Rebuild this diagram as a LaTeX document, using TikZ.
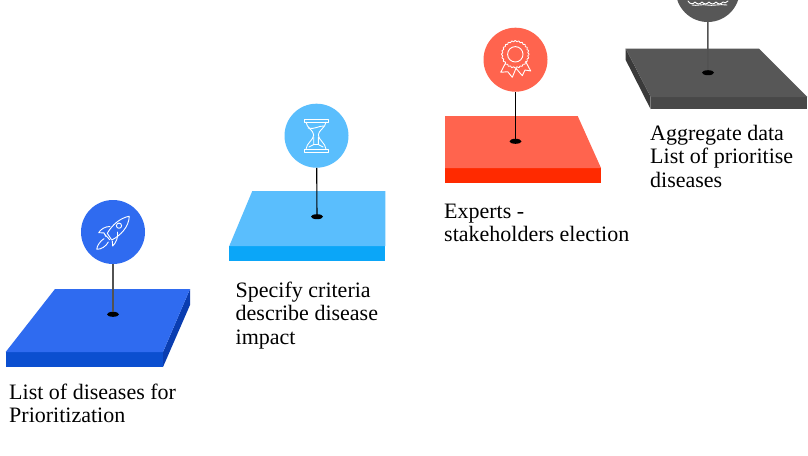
\documentclass[tikz,border=0pt]{standalone}
\usepackage{fontspec}
\setmainfont{Liberation Serif}
\usetikzlibrary{shapes.geometric}
\definecolor{blueT}{HTML}{2F6BF0}\definecolor{blueF}{HTML}{0B4FD0}\definecolor{blueS}{HTML}{0A3DB0}
\definecolor{skyT}{HTML}{5ABEFD}\definecolor{skyF}{HTML}{0BA6F8}
\definecolor{redT}{HTML}{FF644E}\definecolor{redF}{HTML}{FF2A00}
\definecolor{greyT}{HTML}{575757}\definecolor{greyF}{HTML}{484848}\definecolor{greyS}{HTML}{3A3A3A}
\tikzset{
  x=1pt,y=-1pt,
  pin/.style={circle,minimum size=64pt,inner sep=0pt,draw=none},
  hole/.style={ellipse,fill=black,minimum width=12pt,minimum height=5pt,inner sep=0pt},
  conn/.style={line width=1.1pt,draw=black},
  connsoft/.style={line width=1.5pt,draw=black!68},
  icon/.style={draw=white,line width=0.9pt,line join=round,line cap=round,fill=none},
  caption/.style={anchor=north west,inner sep=0pt,align=left,text=black,font=\fontsize{22}{23.5}\selectfont},
}
\newcommand{\firstline}{\rule{0pt}{15pt}}
\begin{document}
\begin{tikzpicture}
\useasboundingbox (0,0) rectangle (808,455);
\clip (0,0) rectangle (808,455);
\fill[white] (0,0) rectangle (808,455);
% plate 1
\fill[blueF] (5.7,352) rectangle (163,367);
\fill[blueS] (190,289) -- (190,305) -- (163,367) -- (163,352) -- cycle;
\fill[blueT] (55,289) -- (190,289) -- (163,352) -- (5.7,352) -- cycle;
% plate 2
\fill[skyF] (229.3,246) rectangle (385.3,260.7);
\fill[skyT] (252.3,191) -- (385.3,191) -- (385.3,246) -- (229.3,246) -- cycle;
% plate 3
\fill[redF] (445,168) rectangle (601,182.7);
\fill[redT] (445,116) -- (577.7,116) -- (601,168) -- (445,168) -- cycle;
% plate 4
\fill[greyF] (650.7,97) rectangle (807.3,109.3);
\fill[greyS] (625.7,48.7) -- (625.7,60) -- (650.7,109.3) -- (650.7,97) -- cycle;
\fill[greyT] (625.7,48.7) -- (759,48.7) -- (807.3,97) -- (650.7,97) -- cycle;
% pins
\node[pin,fill=blueT] (c1) at (113,232) {};
\node[pin,fill=skyT] (c2) at (316.5,135.7) {};
\node[pin,fill=redT] (c3) at (515.5,59.7) {};
\node[pin,fill=greyT] (c4) at (707.7,-10) {};
\node[hole] (h1) at (113,314.3) {};
\node[hole] (h2) at (317,216.7) {};
\node[hole] (h3) at (515.5,141.3) {};
\node[hole] (h4) at (708,72.7) {};
\draw[connsoft] (c1) -- (h1);
\draw[conn] (c2) -- (h2);
\draw[conn] (c3) -- (h3);
\draw[connsoft] (c4) -- (h4);
% rocket
\draw[icon] (129.3,216.2) .. controls (120,218) and (112,225) .. (107.3,233.3) -- (111.7,240) .. controls (120,236) and (129,227) .. cycle;
\draw[icon] (119,225.7) circle (2.6);
\draw[icon] (110,226.5) .. controls (105,226.5) and (101,229) .. (98.7,232.7) -- (104,232.9) -- (106,236.7);
\draw[icon] (117.5,232) .. controls (118.5,237) and (116,243) .. (112.7,246) -- (112.3,241);
\draw[icon] (104,238.7) .. controls (100,241) and (97,246) .. (96.7,249.3) .. controls (101,249.5) and (106,246.5) .. (108.3,242);
\draw[icon] (105.2,234.8) -- (109.8,239.8);
% hourglass
\draw[icon] (304,119.3) rectangle (328,122);
\draw[icon] (304,149.3) rectangle (328,152);
\draw[icon] (306,122) .. controls (306.5,128) and (313.5,130) .. (313.7,135) .. controls (313.5,140) and (306.5,143) .. (306,149.3);
\draw[icon] (326,122) .. controls (325.5,128) and (318.5,130) .. (318.3,135) .. controls (318.5,140) and (325.5,143) .. (326,149.3);
\draw[icon] (308,128) .. controls (314,130) and (319,125.5) .. (324,126);
\draw[icon] (313.7,137) -- (313.7,144.5) -- (309,147);
\draw[icon] (318.3,137) -- (318.3,144.5) -- (323,147);
\draw[icon] (313.7,144.5) -- (318.3,144.5);
% rosette
\draw[icon] (515.3,54.3) circle (7.7);
\draw[icon,line width=0.8pt] plot[domain=0:360,samples=145,smooth] ({515.3+(13.2+0.6*cos(24*\x))*cos(\x)},{54.3+(13.2+0.6*cos(24*\x))*sin(\x)});
\draw[icon] (505.7,62.7) -- (500.7,72.3) -- (507.7,71.7) -- (512.3,77.3) -- (516,68.3) -- (522.3,75.7) -- (525,70) -- (530.7,71) -- (525.7,61.7);
% waves
\draw[icon] (688,1) .. controls (690,4.5) and (693,4.5) .. (695,2) .. controls (697,4.5) and (700,4.5) .. (702,2) .. controls (704,4.5) and (707,4.5) .. (709,2) .. controls (711,4.5) and (714,4.5) .. (716,2) .. controls (718,4.5) and (721,4.5) .. (723,2) .. controls (724.5,3.5) and (726,3) .. (728,1);
\draw[icon] (692,5) .. controls (697,6.2) and (702,3.8) .. (707,5) .. controls (712,6.2) and (720,3.8) .. (727,5);
% captions
\node[caption] (t1) at (9,383.5) {\firstline List of diseases for\\Prioritization};
\node[caption] (t2) at (235.5,281.5) {\firstline Specify criteria\\describe disease\\impact};
\node[caption] (t3) at (444,203) {\firstline Experts -\\stakeholders election};
\node[caption] (t4) at (650,125) {\firstline Aggregate data\\List of prioritise\\diseases};
\end{tikzpicture}
\end{document}
